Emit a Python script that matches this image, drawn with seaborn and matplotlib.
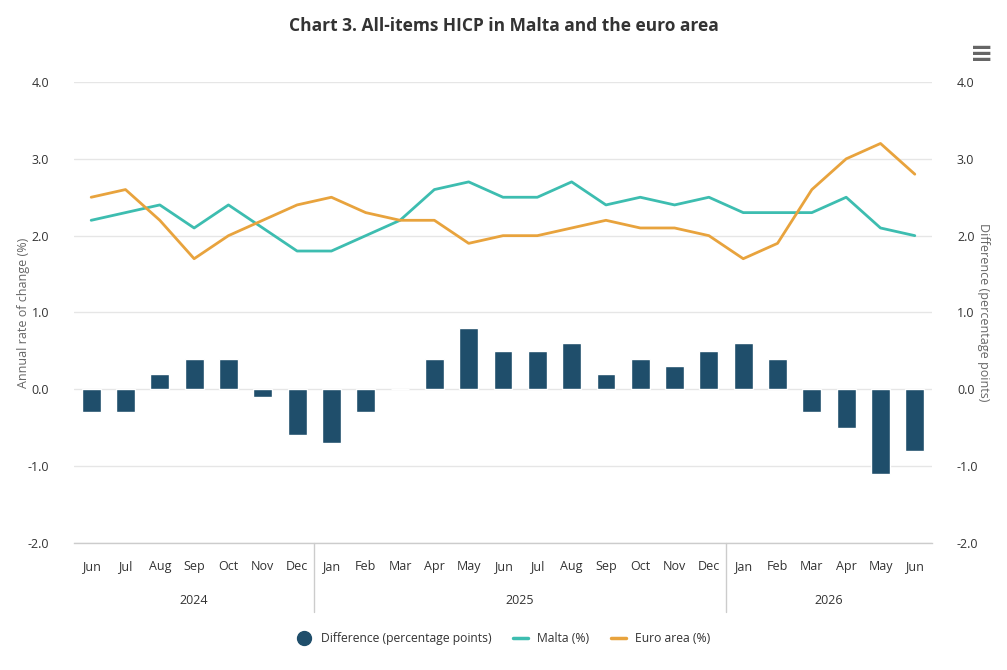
import matplotlib
matplotlib.use("Agg")
import matplotlib.pyplot as plt
import seaborn as sns
import pandas as pd
import numpy as np
from matplotlib.lines import Line2D

months = ["Jun", "Jul", "Aug", "Sep", "Oct", "Nov", "Dec",
          "Jan", "Feb", "Mar", "Apr", "May", "Jun", "Jul", "Aug", "Sep", "Oct", "Nov", "Dec",
          "Jan", "Feb", "Mar", "Apr", "May", "Jun"]
years = ["2024", "2025", "2026"]
year_counts = [7, 12, 6]
malta = [2.2, 2.3, 2.4, 2.1, 2.4, 2.1, 1.8, 1.8, 2.0, 2.2, 2.6, 2.7, 2.5, 2.5, 2.7,
         2.4, 2.5, 2.4, 2.5, 2.3, 2.3, 2.3, 2.5, 2.1, 2.0]
euro = [2.5, 2.6, 2.2, 1.7, 2.0, 2.2, 2.4, 2.5, 2.3, 2.2, 2.2, 1.9, 2.0, 2.0, 2.1,
        2.2, 2.1, 2.1, 2.0, 1.7, 1.9, 2.6, 3.0, 3.2, 2.8]
diff = [-0.3, -0.3, 0.2, 0.4, 0.4, -0.1, -0.6, -0.7, -0.3, 0.0, 0.4, 0.8, 0.5, 0.5, 0.6,
        0.2, 0.4, 0.3, 0.5, 0.6, 0.4, -0.3, -0.5, -1.1, -0.8]

C_BAR = "#1f4e6b"
C_MT = "#3dbdb0"
C_EA = "#e8a33d"
FONT = ["Open Sans", "DejaVu Sans"]

sns.set_theme(style="white")
plt.rcParams["font.family"] = FONT

df = pd.DataFrame({"idx": np.arange(len(months)), "month": months,
                   "malta": malta, "euro": euro, "diff": diff})

fig = plt.figure(figsize=(10.07, 6.70), dpi=100)
ax = fig.add_axes([0.0735, 0.1896, 0.852, 0.688])

sns.barplot(data=df, x="idx", y="diff", color=C_BAR, width=0.55, saturation=1,
            ax=ax, zorder=3)
sns.lineplot(data=df, x="idx", y="malta", color=C_MT, linewidth=2, ax=ax, zorder=4)
sns.lineplot(data=df, x="idx", y="euro", color=C_EA, linewidth=2, ax=ax, zorder=5)

ax.set_xlim(-0.5, len(months) - 0.5)
ax.set_ylim(-2.0, 4.0)
yt = [-2, -1, 0, 1, 2, 3, 4]
ax.set_yticks(yt)
ax.set_yticklabels([f"{v:.1f}" for v in yt], color="#333333", fontsize=9)
ax.grid(axis="y", color="#e6e6e6", linewidth=1, zorder=0)
ax.set_axisbelow(True)
for s in ["top", "right", "left"]:
    ax.spines[s].set_visible(False)
ax.spines["bottom"].set_color("#cccccc")
ax.spines["bottom"].set_linewidth(1)
ax.tick_params(axis="y", length=0, pad=18)
ax.tick_params(axis="x", length=0, pad=12)
ax.set_xticks(np.arange(len(months)))
ax.set_xticklabels(months, color="#333333", fontsize=9)
ax.set_xlabel("")
ax.set_ylabel("Annual rate of change (%)", color="#666666", fontsize=9, labelpad=-2)

ax2 = ax.twinx()
ax2.set_ylim(-2.0, 4.0)
ax2.set_yticks(yt)
ax2.set_yticklabels([f"{v:.1f}" for v in yt], color="#333333", fontsize=9)
ax2.tick_params(axis="y", length=0, pad=18)
for s in ["top", "right", "left", "bottom"]:
    ax2.spines[s].set_visible(False)
ax2.set_ylabel("Difference (percentage points)", color="#666666", fontsize=9,
               rotation=270, labelpad=8)

# year groups
trans = ax.get_xaxis_transform()
start = 0
for i, (yr, n) in enumerate(zip(years, year_counts)):
    center = start + (n - 1) / 2
    ax.text(center, -0.125, yr, transform=trans, ha="center", va="center",
            fontsize=9, color="#333333")
    if i > 0:
        ax.plot([start - 0.5, start - 0.5], [0, -0.15], transform=trans,
                color="#cccccc", linewidth=1, clip_on=False)
    start += n

fig.suptitle("Chart 3. All-items HICP in Malta and the euro area", y=0.975,
             fontsize=12.5, fontweight="bold", color="#333333")
fig.text(0.975, 0.92, "≡", fontsize=20, color="#666666", ha="center", va="center",
         fontweight="bold", family=["DejaVu Sans"])

handles = [Line2D([0], [0], marker="o", linestyle="none", markerfacecolor=C_BAR,
                  markeredgecolor=C_BAR, markersize=10),
           Line2D([0], [0], color=C_MT, linewidth=2.5),
           Line2D([0], [0], color=C_EA, linewidth=2.5)]
labels = ["Difference (percentage points)", "Malta (%)", "Euro area (%)"]
fig.legend(handles, labels, loc="center", bbox_to_anchor=(0.5, 0.047), ncol=3,
           frameon=False, fontsize=8.7, handlelength=1.2, columnspacing=1.8,
           labelcolor="#333333")

fig.savefig("out.png", dpi=100)
